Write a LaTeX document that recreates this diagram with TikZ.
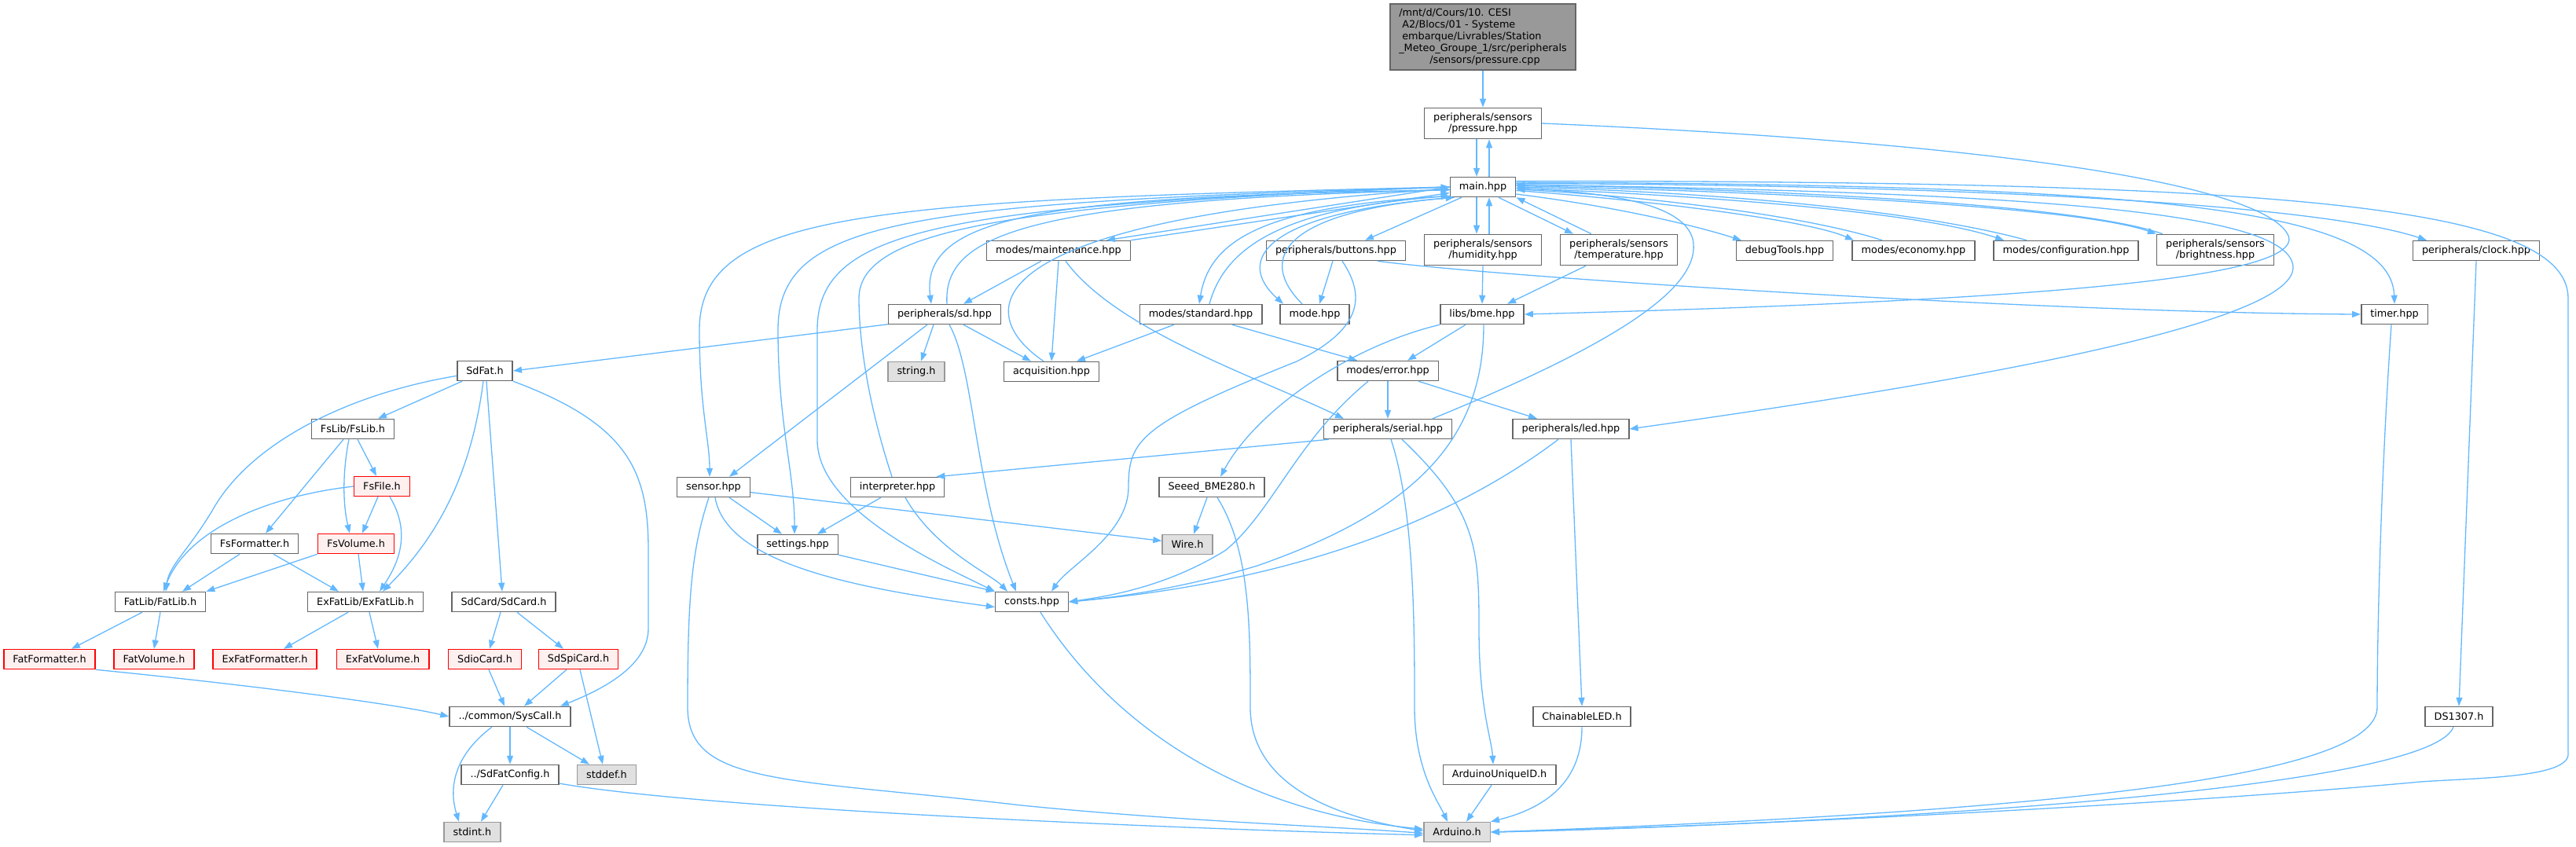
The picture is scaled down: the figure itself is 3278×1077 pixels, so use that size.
\documentclass[tikz,border=0pt]{standalone}
\usepackage{fontspec}
\setsansfont{DejaVu Sans}
\usepackage{xcolor}
\definecolor{edgeblue}{HTML}{63B8FF}
\definecolor{boxgray}{HTML}{666666}
\definecolor{sysgray}{HTML}{999999}
\definecolor{sysfill}{HTML}{E0E0E0}
\definecolor{rootfill}{HTML}{999999}
\definecolor{cutfill}{HTML}{FFF0F0}
\definecolor{cutred}{HTML}{FF0000}
\usepackage{tikz}
\usetikzlibrary{arrows.meta}

\begin{document}
\begin{tikzpicture}[x=1pt, y=-1pt,
  filebox/.style={draw=boxgray, fill=white, line width=1.5pt,
    font=\sffamily\fontsize{12.8}{14.8}\selectfont,
    inner xsep=11.5pt, inner ysep=6pt, minimum height=25pt, align=center},
  sysbox/.style={filebox, draw=sysgray, fill=sysfill},
  cutbox/.style={filebox, draw=cutred, fill=cutfill},
  rootbox/.style={filebox, fill=rootfill, align=left},
  dep/.style={draw=edgeblue, line width=1.3pt, -{Triangle[length=11pt,width=8pt]}}]

  \useasboundingbox (0,0) rectangle (3278,1077);

  \node[rootbox] (root) at (1887,47)
    {/mnt/d/Cours/10. CESI\\\hspace*{4pt}A2/Blocs/01 - Systeme\\\hspace*{4pt}embarque/Livrables/Station\\\_Meteo\_Groupe\_1/src/peripherals\\\hspace*{39pt}/sensors/pressure.cpp};
  \node[filebox] (pressure) at (1887,157) {peripherals/sensors\\/pressure.hpp};
  \node[filebox] (main) at (1887,238) {main.hpp};

  \node[filebox] (maintenance) at (1347,319) {modes/maintenance.hpp};
  \node[filebox] (buttons) at (1700,319) {peripherals/buttons.hpp};
  \node[filebox] (humidity) at (1887,318) {peripherals/sensors\\/humidity.hpp};
  \node[filebox] (temperature) at (2060,318) {peripherals/sensors\\/temperature.hpp};
  \node[filebox] (debugtools) at (2271,319) {debugTools.hpp};
  \node[filebox] (economy) at (2435,319) {modes/economy.hpp};
  \node[filebox] (configuration) at (2629,319) {modes/configuration.hpp};
  \node[filebox] (brightness) at (2819,318) {peripherals/sensors\\/brightness.hpp};
  \node[filebox] (clock) at (3151,319) {peripherals/clock.hpp};

  \node[filebox] (sd) at (1202,400) {peripherals/sd.hpp};
  \node[filebox] (standard) at (1528,400) {modes/standard.hpp};
  \node[filebox] (mode) at (1673,400) {mode.hpp};
  \node[filebox] (bme) at (1886,400) {libs/bme.hpp};
  \node[filebox] (timer) at (3047,400) {timer.hpp};

  \node[filebox] (sdfat) at (617,472) {SdFat.h};
  \node[sysbox] (string) at (1166,473) {string.h};
  \node[filebox] (acquisition) at (1338,473) {acquisition.hpp};
  \node[filebox] (error) at (1766,472) {modes/error.hpp};

  \node[filebox] (fslib) at (449,546) {FsLib/FsLib.h};
  \node[filebox] (serial) at (1766,546) {peripherals/serial.hpp};
  \node[filebox] (led) at (1999,546) {peripherals/led.hpp};

  \node[cutbox] (fsfile) at (486,619) {FsFile.h};
  \node[filebox] (sensor) at (908,620) {sensor.hpp};
  \node[filebox] (interpreter) at (1142,620) {interpreter.hpp};
  \node[filebox] (seeed) at (1542,620) {Seeed\_BME280.h};

  \node[filebox] (fsformatter) at (324,692) {FsFormatter.h};
  \node[cutbox] (fsvolume) at (453,692) {FsVolume.h};
  \node[filebox] (settings) at (1015,693) {settings.hpp};
  \node[sysbox] (wire) at (1511,693) {Wire.h};

  \node[filebox] (fatlib) at (204,766) {FatLib/FatLib.h};
  \node[filebox] (exfatlib) at (465,766) {ExFatLib/ExFatLib.h};
  \node[filebox] (sdcard) at (641,766) {SdCard/SdCard.h};
  \node[filebox] (consts) at (1313,766) {consts.hpp};

  \node[cutbox] (fatformatter) at (63,839) {FatFormatter.h};
  \node[cutbox] (fatvolume) at (196,839) {FatVolume.h};
  \node[cutbox] (exfatformatter) at (337,839) {ExFatFormatter.h};
  \node[cutbox] (exfatvolume) at (487,839) {ExFatVolume.h};
  \node[cutbox] (sdiocard) at (617,839) {SdioCard.h};
  \node[cutbox] (sdspicard) at (736,839) {SdSpiCard.h};

  \node[filebox] (syscall) at (649,912) {../common/SysCall.h};
  \node[filebox] (chainableled) at (2013,912) {ChainableLED.h};
  \node[filebox] (ds1307) at (3129,912) {DS1307.h};

  \node[filebox] (sdfatconfig) at (649,986) {../SdFatConfig.h};
  \node[sysbox] (stddef) at (772,986) {stddef.h};
  \node[filebox] (uniqueid) at (1908,986) {ArduinoUniqueID.h};

  \node[sysbox] (stdint) at (601,1059) {stdint.h};
  \node[sysbox] (arduino) at (1854,1059) {Arduino.h};

  \draw[dep] (root) -- (pressure);
  \draw[dep] ([xshift=-8pt]pressure.south) -- ([xshift=-8pt]main.north);
  \draw[dep] ([xshift=8pt]main.north) -- ([xshift=8pt]pressure.south);
  \draw[dep] (pressure.east) .. controls (2500,180) and (2880,230) .. (2912,300)
    .. controls (2935,360) and (2500,385) .. (bme.east);

  \draw[dep] ([xshift=-8pt]main.south) -- ([xshift=-8pt]humidity.north);
  \draw[dep] ([xshift=8pt]humidity.north) -- ([xshift=8pt]main.south);
  \draw[dep] ([xshift=20pt]main.south) -- ([xshift=-58pt]temperature.north);
  \draw[dep] ([xshift=-35pt]temperature.north) -- (main.south east);
  \draw[dep] ([xshift=-27pt]main.south) -- ([xshift=37pt]buttons.north);
  \draw[dep] (main.west) -- ([xshift=61pt]maintenance.north);
  \draw[dep] (maintenance.north east) -- (main.190);

  \draw[dep] (main.185) .. controls (1350,250) and (1170,270) .. ([xshift=-17pt]sd.north);
  \draw[dep] ([xshift=3pt]sd.north) .. controls (1200,300) and (1300,255) .. (main.185);
  \draw[dep] ([xshift=-10pt]acquisition.north) .. controls (1240,400) and (1225,280) .. (main.183);
  \draw[dep] (main.195) .. controls (1620,262) and (1540,300) .. ([xshift=-2pt]standard.north);
  \draw[dep] ([xshift=11pt]standard.north) .. controls (1560,310) and (1640,265) .. (main.195);
  \draw[dep] (main.200) .. controls (1610,270) and (1570,330) .. ([xshift=-40pt]mode.north);
  \draw[dep] ([xshift=-16pt]mode.north) .. controls (1600,330) and (1630,270) .. (main.200);
  \draw[dep] (main.180) .. controls (1100,255) and (890,270) .. (890,420)
    .. controls (890,520) and (903,560) .. ([xshift=-5pt]sensor.north);
  \draw[dep] (main.180) .. controls (1150,258) and (990,280) .. (990,420)
    .. controls (990,540) and (1011,600) .. ([xshift=-4pt]settings.north);
  \draw[dep] (main.180) .. controls (1200,262) and (1040,290) .. (1040,420) -- (1040,560)
    .. controls (1040,650) and (1200,720) .. (consts.north west);
  \draw[dep] ([xshift=-7pt]interpreter.north) .. controls (1100,500) and (1093,420) .. (1093,380)
    .. controls (1093,300) and (1250,260) .. (main.180);

  \draw[dep] (main.-12) .. controls (2050,262) and (2150,285) .. ([xshift=-55pt]debugtools.north);
  \draw[dep] (main.-6) .. controls (2100,255) and (2300,280) .. ([xshift=-76pt]economy.north);
  \draw[dep] ([xshift=-40pt]economy.north) .. controls (2300,275) and (2100,250) .. (main.-4);
  \draw[dep] (main.-2) .. controls (2200,250) and (2450,272) .. ([xshift=-79pt]configuration.north);
  \draw[dep] ([xshift=-50pt]configuration.north) .. controls (2450,270) and (2200,245) .. (main.0);
  \draw[dep] (main.2) .. controls (2300,245) and (2650,265) .. (brightness.north west);
  \draw[dep] ([xshift=8pt]brightness.north west) .. controls (2650,262) and (2300,242) .. (main.4);
  \draw[dep] (main.6) .. controls (2500,235) and (2950,260) .. ([xshift=-63pt]clock.north);
  \draw[dep] (main.8) .. controls (2700,235) and (3043,260) .. (timer.north);
  \draw[dep] (main.10) .. controls (2900,230) and (3268,260) .. (3268,380) -- (3268,960)
    .. controls (3268,990) and (3150,990) .. (3080,995)
    .. controls (2700,1030) and (2100,1055) .. (arduino.east);
  \draw[dep] (main.4) .. controls (2600,245) and (2915,270) .. (2918,340)
    .. controls (2920,420) and (2400,500) .. (led.east);
  \draw[dep] ([xshift=57pt]serial.north) .. controls (2050,440) and (2160,370) .. (2155,310)
    .. controls (2150,260) and (2050,245) .. (main.-2);
  \draw[dep] ([xshift=53pt]buttons.south) .. controls (1900,352) and (2600,398) .. (timer.west);

  \draw[dep] ([xshift=-22pt]maintenance.south) -- ([xshift=24pt]sd.north);
  \draw[dep] (maintenance.south) -- (acquisition.north);
  \draw[dep] ([xshift=9pt]maintenance.south) .. controls (1420,420) and (1600,480) .. ([xshift=-56pt]serial.north);
  \draw[dep] ([xshift=-4pt]buttons.south) -- ([xshift=6pt]mode.north);
  \draw[dep] ([xshift=8pt]buttons.south) .. controls (1740,380) and (1730,420) .. (1650,460)
    .. controls (1450,540) and (1436,560) .. (1436,620)
    .. controls (1436,680) and (1360,720) .. ([xshift=25pt]consts.north);
  \draw[dep] (humidity.south) -- (bme.north);
  \draw[dep] ([xshift=-42pt]temperature.south) -- ([xshift=32pt]bme.north);

  \draw[dep] (sd.190) -- (sdfat.east);
  \draw[dep] ([xshift=-14pt]sd.south) -- ([xshift=6pt]string.north);
  \draw[dep] ([xshift=24pt]sd.south) -- ([xshift=-26pt]acquisition.north);
  \draw[dep] ([xshift=-22pt]sd.south) -- ([xshift=20pt]sensor.north);
  \draw[dep] ([xshift=6pt]sd.south) .. controls (1240,470) and (1240,620) .. ([xshift=-20pt]consts.north);
  \draw[dep] ([xshift=-34pt]standard.south) -- ([xshift=32pt]acquisition.north);
  \draw[dep] ([xshift=40pt]standard.south) -- ([xshift=-39pt]error.north);

  \draw[dep] ([xshift=-21pt]bme.south) -- ([xshift=25pt]error.north);
  \draw[dep] (bme.south west) .. controls (1720,440) and (1600,520) .. ([xshift=11pt]seeed.north);
  \draw[dep] ([xshift=2pt]bme.south) .. controls (1888,560) and (1800,650) .. (1600,720)
    .. controls (1500,750) and (1420,760) .. (consts.east);
  \draw[dep] ([xshift=-25pt]error.south) .. controls (1650,560) and (1620,650) .. (1560,700)
    .. controls (1480,750) and (1400,760) .. (consts.east);
  \draw[dep] ([xshift=-16pt]led.south) .. controls (1850,660) and (1650,740) .. (consts.east);
  \draw[dep] (error.south) -- (serial.north);
  \draw[dep] ([xshift=39pt]error.south) -- ([xshift=-43pt]led.north);

  \draw[dep] (serial.190) -- (interpreter.15);
  \draw[dep] ([xshift=4pt]serial.south) .. controls (1800,650) and (1800,800) .. (1800,900)
    .. controls (1800,980) and (1830,1020) .. ([xshift=-12pt]arduino.north);
  \draw[dep] ([xshift=18pt]serial.south) .. controls (1880,650) and (1882,700) .. (1882,800)
    .. controls (1882,900) and (1898,940) .. ([xshift=-8pt]uniqueid.north);
  \draw[dep] (led.south) -- (chainableled.north);
  \draw[dep] (chainableled.south) .. controls (2013,1000) and (1960,1030) .. (arduino.north east);
  \draw[dep] ([xshift=-10pt]uniqueid.south) -- ([xshift=12pt]arduino.north);

  \draw[dep] ([xshift=11pt]consts.south) .. controls (1400,900) and (1550,1030) .. (arduino.175);
  \draw[dep] ([xshift=7pt]seeed.south) .. controls (1591,700) and (1591,800) .. (1591,900)
    .. controls (1591,1000) and (1700,1040) .. (arduino.178);
  \draw[dep] ([xshift=-6pt]seeed.south) -- ([xshift=8pt]wire.north);
  \draw[dep] (sensor.-8) -- (wire.172);
  \draw[dep] ([xshift=20pt]sensor.south) -- ([xshift=-20pt]settings.north);
  \draw[dep] ([xshift=2pt]sensor.south) .. controls (925,720) and (1100,750) .. (consts.188);
  \draw[dep] ([xshift=-6pt]sensor.south) .. controls (880,700) and (875,760) .. (875,900)
    .. controls (875,1000) and (1000,990) .. (1300,1025)
    .. controls (1500,1045) and (1700,1052) .. (arduino.182);
  \draw[dep] ([xshift=-21pt]interpreter.south) -- ([xshift=25pt]settings.north);
  \draw[dep] ([xshift=10pt]interpreter.south) .. controls (1190,700) and (1260,730) .. ([xshift=-31pt]consts.north);
  \draw[dep] (settings.south east) -- (consts.north west);

  \draw[dep] ([xshift=-4pt]timer.south) .. controls (3030,600) and (3025,800) .. (3025,900)
    .. controls (3025,980) and (2700,1030) .. (arduino.east);
  \draw[dep] (clock.south) -- (ds1307.north);
  \draw[dep] ([xshift=-7pt]ds1307.south) .. controls (3090,1010) and (2300,1050) .. (arduino.east);

  \draw[dep] ([xshift=-29pt]sdfat.south) -- ([xshift=32pt]fslib.north);
  \draw[dep] (sdfat.190) .. controls (450,500) and (320,560) .. (270,650)
    .. controls (240,700) and (215,720) .. ([xshift=7pt]fatlib.north);
  \draw[dep] ([xshift=-2pt]sdfat.south) .. controls (600,600) and (560,680) .. ([xshift=22pt]exfatlib.north);
  \draw[dep] ([xshift=2pt]sdfat.south) -- ([xshift=-2pt]sdcard.north);
  \draw[dep] (sdfat.south east) .. controls (800,540) and (825,600) .. (825,700) -- (825,800)
    .. controls (825,850) and (760,880) .. ([xshift=64pt]syscall.north);
  \draw[dep] ([xshift=6pt]fslib.south) -- ([xshift=-7pt]fsfile.north);
  \draw[dep] ([xshift=-12pt]fslib.south) -- ([xshift=14pt]fsformatter.north);
  \draw[dep] ([xshift=-5pt]fslib.south) .. controls (436,600) and (436,640) .. ([xshift=-8pt]fsvolume.north);
  \draw[dep] ([xshift=-5pt]fsfile.south) -- ([xshift=8pt]fsvolume.north);
  \draw[dep] (fsfile.west) .. controls (350,630) and (240,670) .. ([xshift=4pt]fatlib.north);
  \draw[dep] ([xshift=10pt]fsfile.south) .. controls (525,680) and (505,720) .. ([xshift=18pt]exfatlib.north);
  \draw[dep] ([xshift=-19pt]fsformatter.south) -- ([xshift=28pt]fatlib.north);
  \draw[dep] ([xshift=24pt]fsformatter.south) -- ([xshift=-34pt]exfatlib.north);
  \draw[dep] (fsvolume.south west) -- (fatlib.north east);
  \draw[dep] ([xshift=3pt]fsvolume.south) -- ([xshift=-3pt]exfatlib.north);

  \draw[dep] ([xshift=-23pt]fatlib.south) -- ([xshift=28pt]fatformatter.north);
  \draw[dep] (fatlib.south) -- (fatvolume.north);
  \draw[dep] ([xshift=-22pt]exfatlib.south) -- ([xshift=24pt]exfatformatter.north);
  \draw[dep] ([xshift=5pt]exfatlib.south) -- ([xshift=-6pt]exfatvolume.north);
  \draw[dep] ([xshift=-4pt]sdcard.south) -- ([xshift=6pt]sdiocard.north);
  \draw[dep] ([xshift=17pt]sdcard.south) -- ([xshift=-19pt]sdspicard.north);

  \draw[dep] (fatformatter.south east) .. controls (300,870) and (500,895) .. (syscall.west);
  \draw[dep] ([xshift=5pt]sdiocard.south) -- ([xshift=-7pt]syscall.north);
  \draw[dep] ([xshift=-15pt]sdspicard.south) -- ([xshift=18pt]syscall.north);
  \draw[dep] ([xshift=2pt]sdspicard.south) -- ([xshift=-5pt]stddef.north);
  \draw[dep] (syscall.south) -- (sdfatconfig.north);
  \draw[dep] ([xshift=21pt]syscall.south) -- ([xshift=-22pt]stddef.north);
  \draw[dep] ([xshift=-23pt]syscall.south) .. controls (580,960) and (570,1000) .. ([xshift=-17pt]stdint.north);
  \draw[dep] ([xshift=-9pt]sdfatconfig.south) -- ([xshift=11pt]stdint.north);
  \draw[dep] (sdfatconfig.-10) .. controls (900,1030) and (1500,1055) .. (arduino.185);

\end{tikzpicture}
\end{document}
